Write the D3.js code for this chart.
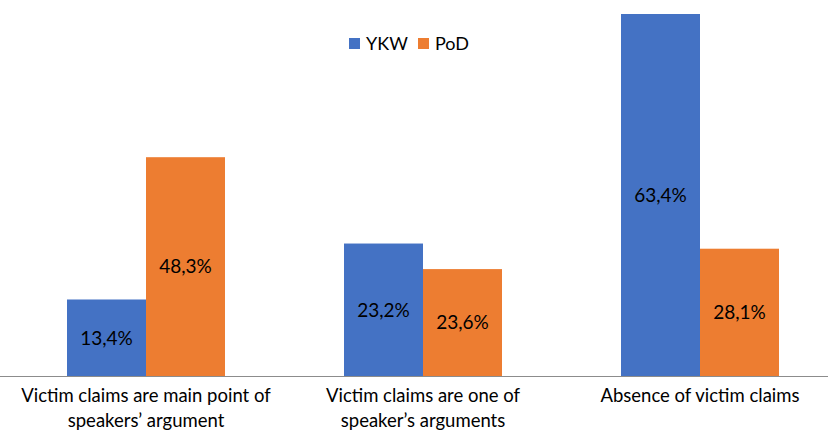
<!DOCTYPE html>
<html>
<head>
<meta charset="utf-8">
<script src="https://cdn.jsdelivr.net/npm/d3@7"></script>
<style>
  body { margin: 0; background: #fff; }
  text { font-family: Lato, "Open Sans", sans-serif; fill: #000; }
</style>
</head>
<body>
<svg id="chart" width="828" height="436"></svg>
<script>
var width = 828;
var height = 436;

// data
var categories = [
    ["Victim claims are main point of", "speakers\u2019 argument"],
    ["Victim claims are one of", "speaker\u2019s arguments"],
    ["Absence of victim claims"]
];
var series = ["YKW", "PoD"];
var ykw = [13.4, 23.2, 63.4];
var pod = [48.3, 23.6, 28.1];
var colors = ["#4472c4", "#ed7d31"];

var baseY = 376;

var svg = d3.select("#chart");

// category bands
var x = d3.scaleBand()
    .domain(d3.range(categories.length))
    .range([7.5, 838.5])
    .paddingInner(0)
    .paddingOuter(0);

var x1 = d3.scaleBand()
    .domain(series)
    .range([x.bandwidth() / 2 - 79, x.bandwidth() / 2 + 79]);

// the two series sit on separate value axes
var yK = d3.scaleLinear().domain([0, 63.4]).range([baseY, 14]);
var yP = d3.scaleLinear().domain([0, 80]).range([baseY, baseY - 80 * 4.53]);
var scales = [yK, yP];

var fmt = function(v) { return v.toFixed(1).replace(".", ",") + "%"; };

series.forEach(function(s, si) {
    var vals = si == 0 ? ykw : pod;
    var y = scales[si];
    var g = svg.append("g");
    g.selectAll("rect")
        .data(vals)
        .enter().append("rect")
        .attr("x", function(d, i) { return x(i) + x1(s); })
        .attr("y", function(d) { return y(d); })
        .attr("width", x1.bandwidth())
        .attr("height", function(d) { return baseY - y(d); })
        .style("fill", colors[si]);

    g.selectAll("text")
        .data(vals)
        .enter().append("text")
        .attr("x", function(d, i) { return x(i) + x1(s) + x1.bandwidth() / 2; })
        .attr("y", function(d) { return (y(d) + baseY) / 2; })
        .attr("dy", "0.36em")
        .style("text-anchor", "middle")
        .style("font-size", "19px")
        .text(fmt);
});

// axis line
svg.append("line")
    .attr("x1", 0).attr("x2", width)
    .attr("y1", baseY + 0.5).attr("y2", baseY + 0.5)
    .style("stroke", "#8c8c8c")
    .style("stroke-width", 1.2);

// category labels
var lab = svg.selectAll(".cat")
    .data(categories)
    .enter().append("text")
    .attr("class", "cat")
    .style("text-anchor", "middle")
    .style("font-size", "18.5px");
lab.selectAll("tspan")
    .data(function(d, i) { return d.map(function(t) { return {t: t, i: i}; }); })
    .enter().append("tspan")
    .attr("x", function(d) { return x(d.i) + x.bandwidth() / 2; })
    .attr("y", function(d, j) { return 402 + j * 25; })
    .text(function(d) { return d.t; });

// legend
var leg = svg.append("g");
var legX = [349, 418];
series.forEach(function(s, i) {
    leg.append("rect")
        .attr("x", legX[i]).attr("y", 38)
        .attr("width", 11).attr("height", 11)
        .style("fill", colors[i]);
    leg.append("text")
        .attr("x", legX[i] + 17).attr("y", 50)
        .style("font-size", "18px")
        .text(s);
});
</script>
</body>
</html>
